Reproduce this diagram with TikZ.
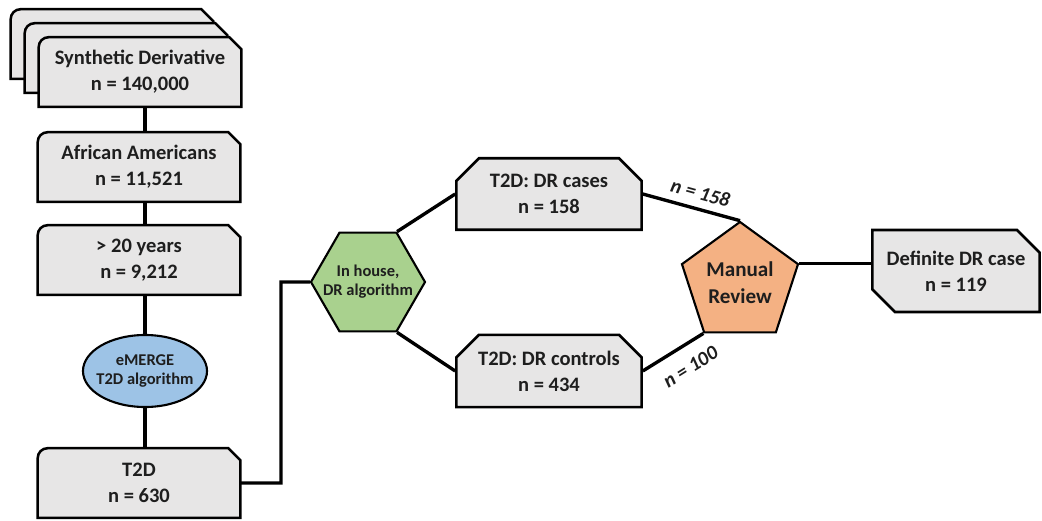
\documentclass[tikz,border=0pt]{standalone}
\usepackage{fontspec}
\setmainfont{Carlito}
\usetikzlibrary{shapes.geometric,shapes.misc,backgrounds}

\definecolor{cardgray}{RGB}{231,230,230}
\definecolor{algoblue}{RGB}{157,195,230}
\definecolor{algogreen}{RGB}{169,209,142}
\definecolor{revieworange}{RGB}{244,177,131}
\definecolor{inkgray}{RGB}{30,30,30}

\tikzset{
  card/.style={minimum width=5.05cm, minimum height=1.725cm, align=center, text=inkgray,
    inner xsep=2pt, font=\fontsize{14.6}{18.5}\selectfont\bfseries},
  cardline/.style={draw=black, fill=cardgray, line width=1.8pt},
  chamfcard/.style={card, cardline, chamfered rectangle, chamfered rectangle xsep=8pt, chamfered rectangle ysep=8pt},
  algo/.style={draw=black, line width=1.5pt, inner sep=0pt, align=center, text=inkgray,
    font=\fontsize{11.7}{13.5}\selectfont\bfseries},
  link/.style={draw=black, line width=2.4pt},
  countlabel/.style={sloped, text=inkgray, font=\fontsize{14.3}{16}\selectfont\bfseries\itshape}
}

% outline of a left-column card, #2 = offset up and left in px
\newcommand{\stackcard}[2]{%
  \filldraw[cardline] ([shift={(-#2,-#2)}]#1.south west) [rounded corners=7pt]
    -- ([shift={(-#2,-#2)}]#1.north west) [sharp corners]
    -- ([shift={(-#2-12,-#2)}]#1.north east)
    -- ([shift={(-#2,12-#2)}]#1.north east)
    -- ([shift={(-#2,-#2)}]#1.south east) -- cycle;}

\begin{document}
\begin{tikzpicture}[x=0.025cm, y=-0.025cm]
  \useasboundingbox (0,0) rectangle (1042,521);

  % left column
  \node [card] (synth) at (140,72) {Synthetic Derivative\\n = 140,000};
  \node [card] (afam) at (139,167) {African Americans\\n = 11,521};
  \node [card] (adult) at (139,260) {> 20 years\\n = 9,212};
  \node [algo, ellipse, fill=algoblue, minimum width=3.1cm, minimum height=1.8cm, inner xsep=-3.5pt] (emerge) at (145,371) {eMERGE\\T2D algorithm};
  \node [card] (t2d) at (139,483) {T2D\\n = 630};

  % DR split
  \node [algo, regular polygon, regular polygon sides=6, fill=algogreen, minimum size=2.85cm, inner sep=-8pt] (inhouse) at (368,282) {In house,\\DR algorithm};
  \node [chamfcard, chamfered rectangle corners={north west, north east}, minimum width=4.625cm, minimum height=1.75cm] (cases) at (549,194) {T2D: DR cases\\n = 158};
  \node [chamfcard, chamfered rectangle corners={north west, north east}, minimum width=4.625cm, minimum height=1.75cm] (controls) at (549,371) {T2D: DR controls\\n = 434};
  \node [algo, regular polygon, regular polygon sides=5, fill=revieworange, minimum size=3.05cm,
    font=\fontsize{15}{19}\selectfont\bfseries] (review) at (740,283) {Manual\\Review};
  \node [chamfcard, chamfered rectangle corners={north east, south west}, minimum width=4.175cm, minimum height=2.05cm] (definite) at (956,271) {Definite DR case\\n = 119};

  \coordinate (bend) at (281,282);

  \begin{scope}[on background layer]
    \stackcard{synth}{28}
    \stackcard{synth}{14}
    \foreach \c in {synth, afam, adult, t2d} {\stackcard{\c}{0}}
  \end{scope}

  \draw [link] (synth.south -| emerge) -- (afam.north -| emerge);
  \draw [link] (afam.south -| emerge) -- (adult.north -| emerge);
  \draw [link] (adult.south -| emerge) -- (emerge.north);
  \draw [link] (emerge.south) -- (t2d.north -| emerge);
  \draw [link] (t2d.east) -| (bend) -- (inhouse.west);

  \draw [link] (inhouse.60) -- (cases.west);
  \draw [link] (inhouse.-60) -- (controls.west);
  \draw [link] (cases.east) -- node [countlabel, pos=0.55, above=2pt] {n = 158} (review.90);
  \draw [link] (controls.east) -- node [countlabel, pos=0.6, below=6pt] {n = 100} (review.234);
  \draw [link] (review.18) -- (review.18 -| definite.west);
\end{tikzpicture}
\end{document}
